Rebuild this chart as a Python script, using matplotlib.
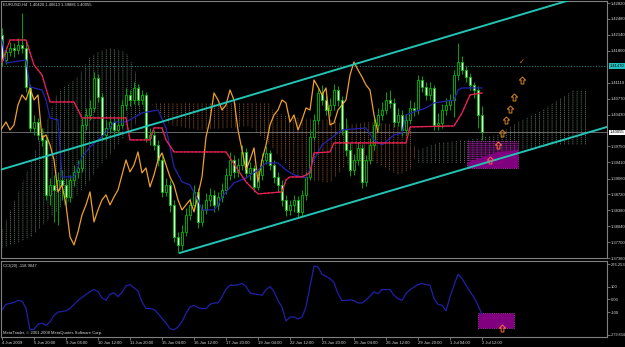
import matplotlib
matplotlib.use('Agg')
import numpy as np
import matplotlib.pyplot as plt
from matplotlib.patches import Rectangle
from matplotlib.path import Path

# EURUSD H4 bars, bar 0 = 4 Jun 2009, last bar = 2 Jul 2009
opens = [1.42135, 1.41600, 1.41771, 1.41857, 1.41814, 1.41921, 1.41857, 1.41022, 1.40145, 1.40273,
         1.39995, 1.39888, 1.38711, 1.38925, 1.38818, 1.39032, 1.38925, 1.38668, 1.39032, 1.39203,
         1.39289, 1.40209, 1.40423, 1.40573, 1.41215, 1.40808, 1.39995, 1.40145, 1.40273, 1.40102,
         1.40209, 1.40637, 1.40851, 1.40744, 1.41001, 1.40744, 1.40851, 1.39931, 1.39995, 1.39781,
         1.39460, 1.38775, 1.38925, 1.38497, 1.37812, 1.37641, 1.37919, 1.38283, 1.38497, 1.38775,
         1.38133, 1.38390, 1.38604, 1.38711, 1.38497, 1.38668, 1.38818, 1.39139, 1.39460, 1.39203,
         1.39353, 1.39631, 1.39182, 1.39289, 1.38882, 1.39139, 1.39460, 1.39610, 1.39353, 1.39096,
         1.38925, 1.38604, 1.38390, 1.38497, 1.38604, 1.38347, 1.38711, 1.39096, 1.39952, 1.40316,
         1.40894, 1.40744, 1.40530, 1.40637, 1.40958, 1.40744, 1.40102, 1.39674, 1.39246, 1.39460,
         1.39717, 1.38989, 1.39460, 1.39781, 1.40209, 1.40423, 1.40530, 1.40744, 1.40680, 1.40273,
         1.40423, 1.40102, 1.40316, 1.40573, 1.40530, 1.41172, 1.41022, 1.40851, 1.41001, 1.40209,
         1.40252, 1.40530, 1.40637, 1.40744, 1.41279, 1.41557, 1.41386, 1.41236, 1.41065, 1.40958,
         1.40420]
closes = [1.41600, 1.41771, 1.41857, 1.41814, 1.41921, 1.41857, 1.41022, 1.40145, 1.40273, 1.39995,
          1.39888, 1.38711, 1.38925, 1.38818, 1.39032, 1.38925, 1.38668, 1.39032, 1.39203, 1.39289,
          1.40209, 1.40423, 1.40573, 1.41215, 1.40808, 1.39995, 1.40145, 1.40273, 1.40102, 1.40209,
          1.40637, 1.40851, 1.40744, 1.41001, 1.40744, 1.40851, 1.39931, 1.39995, 1.39781, 1.39460,
          1.38775, 1.38925, 1.38497, 1.37812, 1.37641, 1.37919, 1.38283, 1.38497, 1.38775, 1.38133,
          1.38390, 1.38604, 1.38711, 1.38497, 1.38668, 1.38818, 1.39139, 1.39460, 1.39203, 1.39353,
          1.39631, 1.39182, 1.39289, 1.38882, 1.39139, 1.39460, 1.39610, 1.39353, 1.39096, 1.38925,
          1.38604, 1.38390, 1.38497, 1.38604, 1.38347, 1.38711, 1.39096, 1.39952, 1.40316, 1.40894,
          1.40744, 1.40530, 1.40637, 1.40958, 1.40744, 1.40102, 1.39674, 1.39246, 1.39460, 1.39717,
          1.38989, 1.39460, 1.39781, 1.40209, 1.40423, 1.40530, 1.40744, 1.40680, 1.40273, 1.40423,
          1.40102, 1.40316, 1.40573, 1.40530, 1.41172, 1.41022, 1.40851, 1.41001, 1.40209, 1.40252,
          1.40530, 1.40637, 1.40744, 1.41279, 1.41557, 1.41386, 1.41236, 1.41065, 1.40958, 1.40423,
          1.40055]
highs = [1.42285, 1.41878, 1.41985, 1.41964, 1.42071, 1.42606, 1.42028, 1.41086, 1.40423, 1.40359,
         1.40145, 1.39974, 1.39075, 1.39139, 1.39203, 1.39246, 1.39075, 1.39139, 1.39353, 1.39460,
         1.40359, 1.40573, 1.40744, 1.41343, 1.41300, 1.40894, 1.40316, 1.40423, 1.40380, 1.40359,
         1.40744, 1.41001, 1.40958, 1.41129, 1.41086, 1.40958, 1.40915, 1.40145, 1.40102, 1.39888,
         1.39546, 1.39075, 1.39032, 1.38604, 1.37919, 1.38069, 1.38433, 1.38647, 1.38925, 1.38861,
         1.38518, 1.38754, 1.38861, 1.38818, 1.38775, 1.38968, 1.39289, 1.39631, 1.39567, 1.39503,
         1.39781, 1.39717, 1.39417, 1.39353, 1.39246, 1.39610, 1.39760, 1.39674, 1.39460, 1.39203,
         1.39032, 1.38711, 1.38604, 1.38711, 1.38690, 1.38818, 1.39203, 1.40102, 1.40444, 1.41001,
         1.41065, 1.40851, 1.40787, 1.41086, 1.41044, 1.40830, 1.40359, 1.39824, 1.39588, 1.39845,
         1.39802, 1.39567, 1.39931, 1.40359, 1.40573, 1.40701, 1.40915, 1.40958, 1.40787, 1.40573,
         1.40530, 1.40444, 1.40744, 1.40701, 1.41279, 1.41258, 1.41129, 1.41129, 1.41065, 1.40466,
         1.40658, 1.40787, 1.40872, 1.41386, 1.41964, 1.41686, 1.41472, 1.41322, 1.41129, 1.41044,
         1.40613]
lows = [1.41472, 1.41514, 1.41686, 1.41664, 1.41728, 1.41750, 1.40915, 1.40059, 1.39995, 1.39888,
        1.39760, 1.38604, 1.38497, 1.38133, 1.38069, 1.38604, 1.38497, 1.38561, 1.38904, 1.39075,
        1.39203, 1.40102, 1.40316, 1.40487, 1.40701, 1.39888, 1.39888, 1.40038, 1.39974, 1.40016,
        1.40145, 1.40530, 1.40616, 1.40658, 1.40637, 1.40658, 1.39845, 1.39781, 1.39674, 1.39332,
        1.38668, 1.38690, 1.38347, 1.37705, 1.37470, 1.37534, 1.37834, 1.38176, 1.38390, 1.38005,
        1.38048, 1.38304, 1.38476, 1.38347, 1.38390, 1.38561, 1.38732, 1.39032, 1.39075, 1.39096,
        1.39246, 1.39075, 1.39032, 1.38775, 1.38818, 1.39032, 1.39374, 1.39246, 1.38968, 1.38775,
        1.38476, 1.38262, 1.38283, 1.38347, 1.38219, 1.38262, 1.38604, 1.39032, 1.39888, 1.40230,
        1.40637, 1.40423, 1.40402, 1.40530, 1.40616, 1.39995, 1.39546, 1.39118, 1.39139, 1.39353,
        1.38861, 1.38904, 1.39374, 1.39674, 1.40102, 1.40316, 1.40444, 1.40573, 1.40166, 1.40188,
        1.39974, 1.39995, 1.40230, 1.40402, 1.40444, 1.40915, 1.40744, 1.40744, 1.40102, 1.40102,
        1.40145, 1.40423, 1.40530, 1.40380, 1.41172, 1.41300, 1.41129, 1.40958, 1.40787, 1.40145,
        1.39886]

# Ichimoku lines (bar, price)
tenkan_bars = [0, 2, 6, 8, 10, 12, 18, 20, 31, 32, 37, 38, 40, 41, 43, 56, 61, 64, 70, 71,
               72, 75, 77, 78, 82, 83, 101, 102, 113, 115, 117, 120]
tenkan_vals = [1.41557, 1.42028, 1.42028, 1.41493, 1.41279, 1.40701, 1.40701, 1.40359, 1.40359, 1.39888,
               1.39888, 1.40145, 1.40145, 1.39888, 1.39631, 1.39631, 1.38989, 1.38732, 1.38775, 1.39032,
               1.39096, 1.39096, 1.39182, 1.39610, 1.39631, 1.39824, 1.39824, 1.40166, 1.40188, 1.40466,
               1.40851, 1.40894]
kijun_bars = [0, 1, 6, 7, 10, 11, 12, 14, 15, 18, 20, 22, 24, 26, 28, 31, 35, 39, 41, 43,
              45, 47, 49, 50, 53, 54, 55, 58, 61, 64, 66, 69, 71, 73, 76, 78, 80, 85, 91, 93,
              95, 98, 100, 101, 103, 106, 108, 113, 114, 115, 120]
kijun_vals = [1.42028, 1.41536, 1.41600, 1.41022, 1.40958, 1.40744, 1.40359, 1.40316, 1.39096, 1.39096,
              1.39524, 1.39738, 1.39888, 1.40038, 1.40273, 1.40273, 1.40466, 1.40530, 1.40145, 1.39310,
              1.38989, 1.38925, 1.38604, 1.38390, 1.38390, 1.38497, 1.38668, 1.38968, 1.39075, 1.39246,
              1.39396, 1.39396, 1.39246, 1.39139, 1.39075, 1.39460, 1.39781, 1.40102, 1.40145, 1.39888,
              1.39781, 1.39995, 1.40038, 1.40423, 1.40487, 1.40573, 1.40680, 1.40744, 1.40958, 1.41001,
              1.41001]
cloud_bars = [-1, 7, 14, 19, 22, 24, 27, 31, 33, 34, 36, 39, 42, 49, 57, 62, 67, 68, 72, 74,
              82, 86, 92, 99, 102, 104, 109, 116, 124, 129, 134, 139, 143, 146]
span_a = [1.37748, 1.39353, 1.40915, 1.41236, 1.41664, 1.41771, 1.41857, 1.41771, 1.41450, 1.41129,
          1.40744, 1.40530, 1.40209, 1.40102, 1.40145, 1.40188, 1.39781, 1.39674, 1.39246, 1.39075,
          1.38968, 1.39353, 1.39460, 1.39139, 1.39246, 1.39674, 1.39824, 1.39888, 1.39995, 1.40273,
          1.40466, 1.40744, 1.40958, 1.40958]
span_b = [1.37534, 1.37791, 1.38390, 1.38711, 1.39032, 1.39289, 1.39567, 1.39995, 1.40145, 1.40359,
          1.40616, 1.40680, 1.40680, 1.40680, 1.40680, 1.40680, 1.40680, 1.40466, 1.40402, 1.40359,
          1.40316, 1.40209, 1.40273, 1.40209, 1.40209, 1.39396, 1.39396, 1.39396, 1.39631, 1.39674,
          1.39738, 1.39781, 1.39781, 1.39781]

# CCI(20) values per bar
cci = [-81, -40, -32, -25, -8, -15, -70, -240, -235, -195,
       -188, -204, -178, -125, -100, -96, -90, -73, -40, -10,
       15, 37, 60, 76, 60, 10, -8, 40, 50, 20,
       55, 105, 115, 90, 65, -20, -73, -73, -80, -110,
       -150, -185, -230, -240, -217, -175, -110, -60, -48, -65,
       -73, -73, -40, -29, -29, 20, 80, 110, 110, 112,
       125, 100, 50, 42, 38, 31, 75, 100, 60, -10,
       -60, -170, -140, -138, -155, -140, -60, 100, 260, 253,
       196, 180, 162, 130, 44, -10, -8, -5, -10, -29,
       -29, -5, 25, 57, 44, 76, 76, 76, 31, 5,
       -8, 44, 75, 96, 115, 123, 115, 110, 5, -40,
       -47, -91, 20, 110, 196, 162, 110, 60, 15, -47,
       -119]

# hand drawn objects
channel_up_bars = [-0.5, 142]
channel_up_prices = [1.39246, 1.42884]
channel_low_bars = [44.5, 151.25]
channel_low_prices = [1.37470, 1.40166]
box_bars = [116.25, 129]
box_prices = [1.39289, 1.39867]
cci_box_bars = [119, 128]
cci_box_vals = [-227, -110]
arrow_bars = [130, 128, 127, 126, 125, 124, 122]
arrow_prices = [1.41172, 1.40808, 1.40540, 1.40316, 1.40038, 1.39781, 1.39460]
arrow_colors = ['#d88420'] * 5 + ['#ff6a3a', '#ff5a5a']
check_price = 1.41557
hline_price = 1.41470
bid_price = 1.40055

price_ticks = [1.42820, 1.42480, 1.42140, 1.41800, 1.41110, 1.40770, 1.40430, 1.39750,
               1.39410, 1.39060, 1.38720, 1.38380, 1.38040, 1.37700, 1.37360]
cci_ticks = [276.253, 100, 0, -100, -279.834]
cci_tick_labels = ['276.253', '100', '0.00', '-100', '-279.834']
time_labels = ['4 Jun 2009', '5 Jun 20:00', '9 Jun 04:00', '10 Jun 12:00', '11 Jun 20:00',
               '15 Jun 04:00', '16 Jun 12:00', '17 Jun 20:00', '19 Jun 04:00', '22 Jun 12:00',
               '23 Jun 20:00', '25 Jun 04:00', '26 Jun 12:00', '29 Jun 20:00', '1 Jul 04:00',
               '2 Jul 12:00']

plt.rcParams['hatch.linewidth'] = 0.6
plt.rcParams['font.family'] = ['Liberation Sans', 'DejaVu Sans']
GRID = '#808080'
TXT = '#d8d8d8'
FS = 3.0

# hollow "up arrow" symbol as used by MT4 objects
up_arrow = Path([(-0.2, -0.5), (0.2, -0.5), (0.2, 0.05), (0.45, 0.05), (0, 0.5),
                 (-0.45, 0.05), (-0.2, 0.05), (-0.2, -0.5)],
                [Path.MOVETO] + [Path.LINETO] * 6 + [Path.CLOSEPOLY])

fig = plt.figure(figsize=(6.25, 3.47), dpi=100, facecolor='black')
ax = fig.add_axes([1 / 625, 1 - 258 / 347, 606 / 625, 257 / 347], facecolor='black')
ax2 = fig.add_axes([1 / 625, 10 / 347, 606 / 625, 76 / 347], facecolor='black', sharex=ax)

bars = np.arange(len(closes))
o = np.array(opens)
c = np.array(closes)

# --- ichimoku cloud (dotted histogram look) ---
a = np.array(span_a)
b = np.array(span_b)
ax.fill_between(cloud_bars, span_a, span_b, where=a >= b, interpolate=True,
                facecolor='none', edgecolor='#5c7866', hatch='||||', linewidth=0, zorder=1)
ax.fill_between(cloud_bars, span_a, span_b, where=a < b, interpolate=True,
                facecolor='none', edgecolor='#9c5c2a', hatch='||||', linewidth=0, zorder=1)
# black cross hatch breaks the vertical lines into dots
ax.fill_between(cloud_bars, span_a, span_b, facecolor='none', edgecolor='black',
                hatch='--------', linewidth=0, zorder=1.1)

# purple box behind everything
ax.add_patch(Rectangle((box_bars[0], box_prices[0]), box_bars[1] - box_bars[0],
                       box_prices[1] - box_prices[0], facecolor='#800080',
                       edgecolor='#b050b0', linestyle=':', lw=0.6, zorder=0.5))

# horizontal levels
ax.axhline(hline_price, color='#2a7a78', lw=0.8, ls=(0, (1, 1.5)), zorder=1.5)
ax.axhline(bid_price, color='#6a6a6a', lw=0.7, zorder=1.5)

# --- candles ---
ax.vlines(bars, lows, highs, color='#00a800', lw=0.7, zorder=2)
bull = c >= o
ax.bar(bars[bull], (c - o)[bull], bottom=o[bull], width=0.6, color='black',
       edgecolor='#00c000', lw=0.6, zorder=2.5)
ax.bar(bars[~bull], (o - c)[~bull], bottom=c[~bull], width=0.6, color='#e6ffe6',
       edgecolor='#00c000', lw=0.6, zorder=2.5)

# --- ichimoku lines ---
ax.plot(bars - 26, closes, color='#f0a028', lw=0.9, zorder=3)
ax.plot(kijun_bars, kijun_vals, color='#2424b0', lw=0.9, zorder=3)
ax.plot(tenkan_bars, tenkan_vals, color='#ff2424', lw=0.9, zorder=3.1)
ax.plot(tenkan_bars, tenkan_vals, color='#c020c0', lw=0.9, ls=(0, (1, 2)), zorder=3.2)

# --- channel ---
ax.plot(channel_up_bars, channel_up_prices, color='#22c4b4', lw=1.4, zorder=4)
ax.plot(channel_low_bars, channel_low_prices, color='#22c4b4', lw=1.4, zorder=4)

# arrows and check mark
for xb, yp, col in zip(arrow_bars, arrow_prices, arrow_colors):
    ax.plot(xb, yp, marker=up_arrow, ms=5, mfc='none', mec=col, mew=0.7, zorder=5)
ax.text(arrow_bars[0], check_price, '\u2713', color='#d88420', fontsize=5, ha='center',
        va='center', zorder=5, family='DejaVu Sans')

ax.set_xlim(-0.25, 151.25)
ax.set_ylim(1.37363, 1.42863)
ax.yaxis.tick_right()
ax.set_yticks(price_ticks)
ax.set_yticklabels(['%.5f' % p for p in price_ticks])
ax.tick_params(axis='y', colors=GRID, labelcolor=TXT, labelsize=FS, length=2, pad=0.6, width=0.6)
ax.tick_params(axis='x', bottom=False, labelbottom=False)

# highlighted price labels
ytr = ax.get_yaxis_transform()
ax.text(1.0045, hline_price, '1.41470', transform=ytr, fontsize=FS, color='black', va='center',
        ha='left', bbox=dict(boxstyle='square,pad=0.15', fc='#20c0c0', ec='none'), clip_on=False)
ax.text(1.0045, bid_price, '1.40055', transform=ytr, fontsize=FS, color='black', va='center',
        ha='left', bbox=dict(boxstyle='square,pad=0.15', fc='white', ec='none'), clip_on=False)

# --- CCI pane ---
ax2.add_patch(Rectangle((cci_box_bars[0], cci_box_vals[0]), cci_box_bars[1] - cci_box_bars[0],
                        cci_box_vals[1] - cci_box_vals[0], facecolor='#800080',
                        edgecolor='#b050b0', linestyle=':', lw=0.6, zorder=0.5))
ax2.plot(bars, cci, color='#2020a8', lw=0.9, zorder=2)
ax2.plot(125, cci_box_vals[0], marker=up_arrow, ms=5, mfc='none', mec='#ff6a3a', mew=0.7, zorder=5)
ax2.set_ylim(-295.5, 299.75)
ax2.yaxis.tick_right()
ax2.set_yticks(cci_ticks)
ax2.set_yticklabels(cci_tick_labels)
ax2.tick_params(axis='y', colors=GRID, labelcolor=TXT, labelsize=FS, length=2, pad=0.6, width=0.6)
ax2.get_yticklabels()[-1].set_fontsize(2.7)
ax2.set_xticks(np.arange(0, 121, 8))
ax2.set_xticklabels(time_labels)
ax2.tick_params(axis='x', colors=GRID, labelcolor=TXT, labelsize=FS, length=2.5, pad=0.5, width=0.6)
for lbl in ax2.get_xticklabels():
    lbl.set_ha('left')

for axis in (ax, ax2):
    for sp in axis.spines.values():
        sp.set_color(GRID)
        sp.set_linewidth(0.8)

fig.text(3 / 625, 1 - 5 / 347, 'EURUSD,H4  1.40420 1.40613 1.39886 1.40055', color=TXT,
         fontsize=FS, va='center')
fig.text(3 / 625, 1 - 266 / 347, 'CCI(20) -118.9047', color=TXT, fontsize=FS, va='center')
fig.text(3 / 625, 1 - 333 / 347, 'MetaTrader, \u00a9 2001-2008 MetaQuotes Software Corp.',
         color=TXT, fontsize=FS, va='center')

fig.savefig('out.png', dpi=100, facecolor='black')
